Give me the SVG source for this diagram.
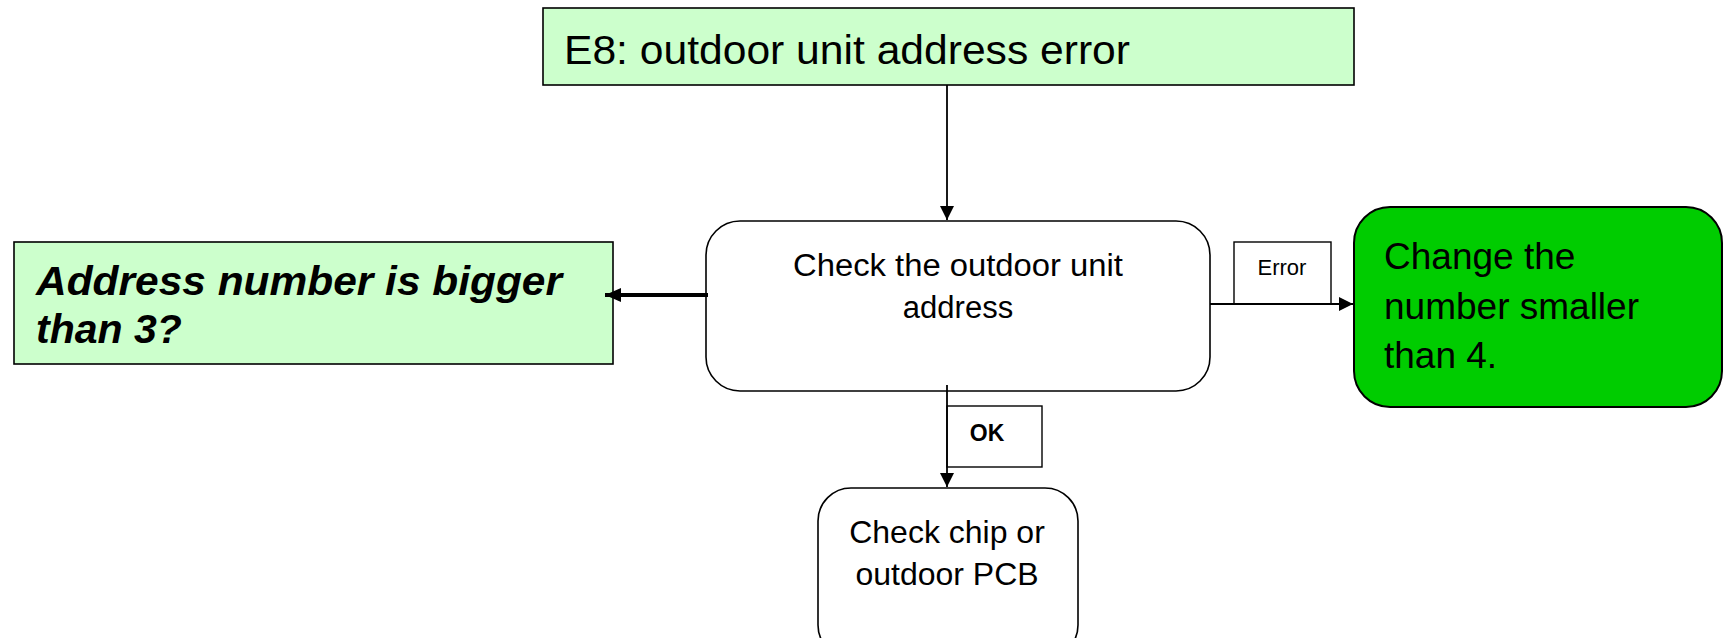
<svg xmlns="http://www.w3.org/2000/svg" width="1725" height="638" viewBox="0 0 1725 638">
<style>
.box{stroke:#000;stroke-width:1.6}
.t{font-family:"Liberation Sans",Arial,sans-serif;fill:#000}
.ln{stroke:#000;stroke-width:1.8;fill:none}
</style>
<defs>
<marker id="ah" viewBox="0 0 10 10" refX="10" refY="5" markerWidth="16" markerHeight="14" markerUnits="userSpaceOnUse" orient="auto" preserveAspectRatio="none">
<path d="M0,0 L10,5 L0,10 z" fill="#000"/>
</marker>
<marker id="ah2" viewBox="0 0 10 10" refX="10" refY="5" markerWidth="14" markerHeight="14" markerUnits="userSpaceOnUse" orient="auto">
<path d="M0,0 L10,5 L0,10 z" fill="#000"/>
</marker>
</defs>
<rect width="1725" height="638" fill="#fff"/>
<g id="n-top">
<rect class="box" x="543" y="8" width="811" height="77" fill="#CCFFCC"/>
<text class="t" x="564" y="64" font-size="40" textLength="566" lengthAdjust="spacingAndGlyphs">E8: outdoor unit address error</text>
</g>
<g id="n-check">
<rect class="box" x="706" y="221" width="504" height="170" rx="34" fill="#fff"/>
<text class="t" x="958" y="276" font-size="31" text-anchor="middle" textLength="330" lengthAdjust="spacingAndGlyphs">Check the outdoor unit</text>
<text class="t" x="958" y="318" font-size="31" text-anchor="middle">address</text>
</g>
<g id="n-left">
<rect class="box" x="14" y="242" width="599" height="122" fill="#CCFFCC"/>
<text class="t" x="36" y="295" font-size="41" font-weight="bold" font-style="italic" textLength="526" lengthAdjust="spacingAndGlyphs">Address number is bigger</text>
<text class="t" x="36" y="343" font-size="41" font-weight="bold" font-style="italic">than 3?</text>
</g>
<g id="l-error">
<rect x="1234" y="242" width="97" height="62" fill="#fff" stroke="#000" stroke-width="1.4"/>
<text class="t" x="1282" y="275" font-size="22" text-anchor="middle">Error</text>
</g>
<g id="n-change">
<rect x="1354" y="207" width="368" height="200" rx="36" fill="#00CC00" stroke="#000" stroke-width="2"/>
<text class="t" x="1384" y="269" font-size="37">Change the</text>
<text class="t" x="1384" y="319" font-size="37">number smaller</text>
<text class="t" x="1384" y="368" font-size="37">than 4.</text>
</g>
<g id="l-ok">
<rect x="947" y="406" width="95" height="61" fill="#fff" stroke="#000" stroke-width="1.4"/>
<text class="t" x="987" y="441" font-size="23" font-weight="bold" text-anchor="middle">OK</text>
</g>
<g id="n-chip">
<rect class="box" x="818" y="488" width="260" height="170" rx="33" fill="#fff"/>
<text class="t" x="947" y="543" font-size="32" text-anchor="middle">Check chip or</text>
<text class="t" x="947" y="585" font-size="32" text-anchor="middle">outdoor PCB</text>
</g>
<g id="connectors">
<line class="ln" x1="947" y1="85" x2="947" y2="220" marker-end="url(#ah2)"/>
<line x1="708" y1="295" x2="605" y2="295" stroke="#000" stroke-width="4" marker-end="url(#ah)"/>
<line class="ln" x1="1210" y1="304" x2="1353" y2="304" marker-end="url(#ah2)"/>
<line class="ln" x1="947" y1="385" x2="947" y2="487" marker-end="url(#ah2)"/>
</g>
</svg>
